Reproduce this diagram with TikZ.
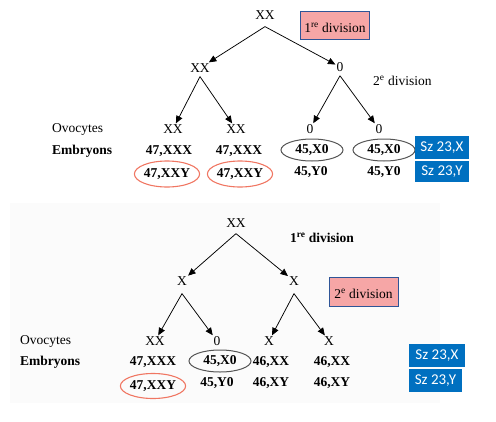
\documentclass[tikz,border=0pt]{standalone}
\usepackage{fontspec}
\setmainfont{Liberation Serif}
\newfontfamily\calibri{Carlito}
\usetikzlibrary{arrows.meta,shapes}
\tikzset{>={Triangle[length=7.5pt,width=6.5pt]}}
\definecolor{szblue}{RGB}{0,112,192}
\definecolor{divpink}{RGB}{246,166,166}
\definecolor{divframe}{RGB}{47,85,151}
\definecolor{ovalred}{RGB}{240,118,98}
\definecolor{ovalgrey}{RGB}{85,85,85}

\begin{document}
\begin{tikzpicture}[x=1pt,y=-1pt,font=\fontsize{13.5}{15}\selectfont]

\tikzstyle{chr}=[inner sep=1pt]
\tikzstyle{emb}=[inner sep=1pt,font=\fontsize{13.5}{15}\selectfont\bfseries]
\tikzstyle{div}=[draw=divframe,line width=1pt,fill=divpink,text height=15pt,
                 minimum width=68pt,minimum height=28pt]
\tikzstyle{sz}=[fill=szblue,text=white,inner sep=0pt,minimum width=54pt,
                font=\calibri\fontsize{15}{16}\selectfont]
\tikzstyle{xxy}=[emb,ellipse,draw=ovalred,line width=1.1pt,inner sep=0pt,
                 minimum width=62pt,minimum height=26pt]
\tikzstyle{xo}=[emb,ellipse,draw=ovalgrey,line width=1pt,inner sep=0pt,
                minimum width=62pt,minimum height=22pt]
\tikzstyle{arr}=[->,line width=0.75pt]

  \useasboundingbox (0,0) rectangle (496,421);
  \fill[gray!3] (10,203) rectangle (440,403);

  % non-disjonction en 1re division
  \node[chr] (t0) at (265,15) {XX};
  \node[div] (d1) at (335,25) {1\textsuperscript{re} division};
  \node[chr] (t1) at (200,68) {XX};
  \node[chr] (t2) at (340,67) {0};
  \node[chr,anchor=west] (d2) at (372,81) {2\textsuperscript{e} division};

  \node[chr,anchor=west] (ov) at (51,129) {Ovocytes};
  \node[chr] (o1) at (173,129) {XX};
  \node[chr] (o2) at (236,129) {XX};
  \node[chr] (o3) at (310,129) {0};
  \node[chr] (o4) at (379,129) {0};

  \node[emb,anchor=west] (em) at (51,151) {Embryons};
  \node[emb] (e1) at (169,151) {47,XXX};
  \node[emb] (e2) at (239,151) {47,XXX};
  \node[xo] (e3) at (312,150) {45,X0};
  \node[xo] (e4) at (384,150) {45,X0};

  \node[xxy] (f1) at (167,174) {47,XXY};
  \node[xxy] (f2) at (240,174) {47,XXY};
  \node[emb] (f3) at (311,172) {45,Y0};
  \node[emb] (f4) at (384,172) {45,Y0};

  \node[sz,minimum height=23pt] (s1) at (442,147.5) {Sz 23,X};
  \node[sz,minimum height=21pt] (s2) at (442,171.5) {Sz 23,Y};

  \draw[arr] ([yshift=-6pt]t0.south) -- ([shift={(15,-11)}]t1);
  \draw[arr] ([yshift=-6pt]t0.south) -- ([shift={(-27,-9)}]t2);
  \draw[arr] ([yshift=-3pt]t1.south) -- ([shift={(0,-22)}]o1);
  \draw[arr] ([yshift=-3pt]t1.south) -- ([shift={(-8,-22)}]o2);
  \draw[arr] ([yshift=-3pt]t2.south) -- ([shift={(1,-22)}]o3);
  \draw[arr] ([yshift=-3pt]t2.south) -- ([shift={(-11,-22)}]o4);

  % non-disjonction en 2e division
  \node[chr] (b0) at (236,223) {XX};
  \node[chr,font=\fontsize{13.5}{15}\selectfont\bfseries] (d3) at (322,238)
       {1\textsuperscript{re} division};
  \node[chr] (b1) at (182,281) {X};
  \node[chr] (b2) at (294,281) {X};
  \node[div,minimum width=69pt,minimum height=29pt] (d4) at (363.5,291.5)
       {2\textsuperscript{e} division};

  \node[chr,anchor=west] (ov2) at (19,341) {Ovocytes};
  \node[chr] (c1) at (155,341) {XX};
  \node[chr] (c2) at (217,341) {0};
  \node[chr] (c3) at (269,341) {X};
  \node[chr] (c4) at (329,341) {X};

  \node[emb,anchor=west] (em2) at (19,362) {Embryons};
  \node[emb] (g1) at (153,362) {47,XXX};
  \node[xo] (g2) at (220,361) {45,X0};
  \node[emb] (g3) at (271,362) {46,XX};
  \node[emb] (g4) at (332,362) {46,XX};

  \node[xxy,minimum height=25pt] (h1) at (153,386) {47,XXY};
  \node[emb] (h2) at (217,383) {45,Y0};
  \node[emb] (h3) at (271,383) {46,XY};
  \node[emb] (h4) at (332,383) {46,XY};

  \node[sz,minimum width=56pt,minimum height=23pt] (s3) at (437,355.5) {Sz 23,X};
  \node[sz,minimum width=53pt,minimum height=23pt] (s4) at (435.5,380.5) {Sz 23,Y};

  \draw[arr] ([yshift=-5pt]b0.south) -- ([shift={(1,-19)}]b1);
  \draw[arr] ([yshift=-5pt]b0.south) -- ([shift={(-12,-19)}]b2);
  \draw[arr] ([yshift=-7pt]b1.south) -- ([shift={(0,-18)}]c1);
  \draw[arr] ([yshift=-7pt]b1.south) -- ([shift={(-4,-18)}]c2);
  \draw[arr] ([yshift=-7pt]b2.south) -- ([shift={(-3,-18)}]c3);
  \draw[arr] ([yshift=-7pt]b2.south) -- ([shift={(-6,-18)}]c4);

\end{tikzpicture}
\end{document}
